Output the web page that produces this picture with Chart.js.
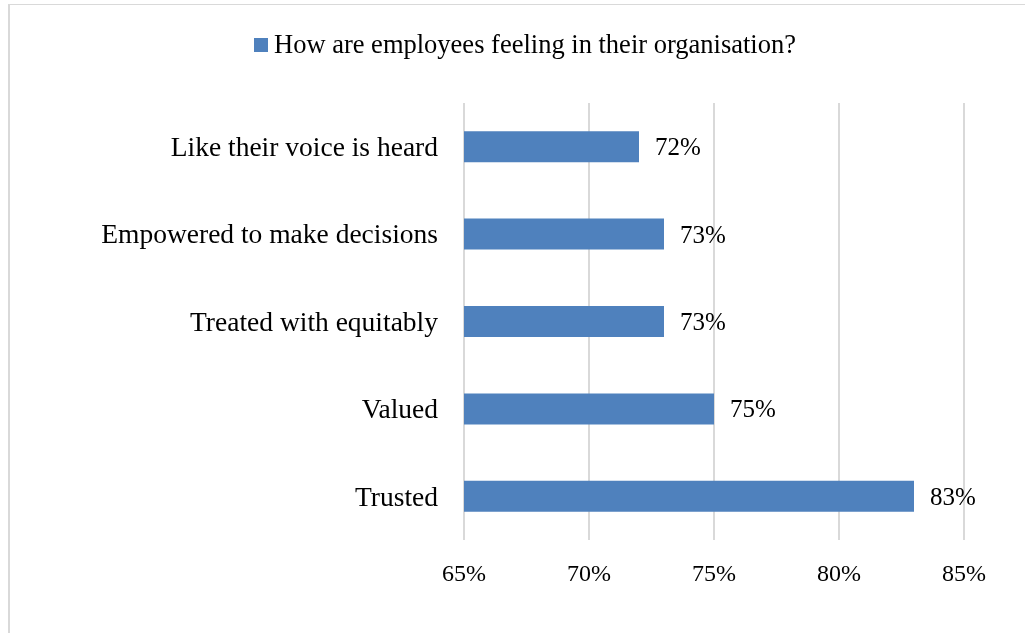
<!DOCTYPE html>
<html>
<head>
<meta charset="utf-8">
<script src="https://cdn.jsdelivr.net/npm/chart.js@4.4.1/dist/chart.umd.min.js"></script>
<style>
  html, body { margin: 0; padding: 0; background: #fff; }
  #wrap { position: relative; width: 1025px; height: 633px; }
  #frame { position: absolute; left: 8px; top: 4px; width: 1017px; height: 629px;
           border-left: 2px solid #d9d9d9; border-top: 1px solid #d9d9d9; box-sizing: border-box; }
  canvas { position: absolute; left: 0; top: 0; }
</style>
</head>
<body>
<div id="wrap">
  <div id="frame"></div>
  <canvas id="c" width="1025" height="633"></canvas>
</div>
<script>
const categories = [
  'Like their voice is heard',
  'Empowered to make decisions',
  'Treated with equitably',
  'Valued',
  'Trusted'
];
const seriesName = 'How are employees feeling in their organisation?';
const values = [72, 73, 73, 75, 83];
const tickValues = [65, 70, 75, 80, 85];

const FONT = '"Liberation Serif", "Times New Roman", serif';
const BAR_COLOR = '#4f81bd';

// Single-entry legend above the plot: square swatch followed by the series name
const topLegend = {
  id: 'topLegend',
  afterDraw(chart) {
    const ctx = chart.ctx;
    const ds = chart.data.datasets[0];
    ctx.save();
    ctx.font = '26.5px ' + FONT;
    const box = 14, gap = 6;
    const total = box + gap + ctx.measureText(ds.label).width;
    const left = Math.round(524.5 - total / 2);
    const cy = 45;
    ctx.fillStyle = ds.backgroundColor;
    ctx.fillRect(left, cy - 7, box, box);
    ctx.fillStyle = '#000';
    ctx.textAlign = 'left';
    ctx.textBaseline = 'middle';
    ctx.fillText(ds.label, left + box + gap, cy + 1);
    ctx.restore();
  }
};

// Value labels to the right of each bar
const valueLabels = {
  id: 'valueLabels',
  afterDatasetsDraw(chart) {
    const ctx = chart.ctx;
    const meta = chart.getDatasetMeta(0);
    ctx.save();
    ctx.font = '25px ' + FONT;
    ctx.fillStyle = '#000';
    ctx.textAlign = 'left';
    ctx.textBaseline = 'middle';
    meta.data.forEach((bar, i) => {
      ctx.fillText(values[i] + '%', bar.x + 16, bar.y + 2);
    });
    ctx.restore();
  }
};

new Chart(document.getElementById('c'), {
  type: 'bar',
  data: {
    labels: categories,
    datasets: [{
      label: seriesName,
      data: values,
      backgroundColor: BAR_COLOR,
      borderWidth: 0,
      barPercentage: 0.355,
      categoryPercentage: 1
    }]
  },
  options: {
    indexAxis: 'y',
    responsive: false,
    animation: false,
    layout: { padding: { top: 103, right: 61, bottom: 0, left: 0 } },
    plugins: {
      legend: { display: false },
      tooltip: { enabled: false }
    },
    scales: {
      x: {
        min: 65,
        max: 85,
        afterBuildTicks(scale) { scale.ticks = tickValues.map(v => ({ value: v })); },
        afterFit(scale) { scale.height = 93; },
        grid: { color: '#d9d9d9', lineWidth: 2, drawTicks: false },
        border: { display: false },
        ticks: {
          padding: 20,
          color: '#000',
          font: { family: FONT, size: 24 },
          callback: v => v + '%'
        }
      },
      y: {
        afterFit(scale) { scale.width = 464; },
        grid: { display: false },
        border: { display: false },
        ticks: {
          padding: 18,
          labelOffset: 2,
          color: '#000',
          font: { family: FONT, size: 27.5 }
        }
      }
    }
  },
  plugins: [valueLabels, topLegend]
});
</script>
</body>
</html>
